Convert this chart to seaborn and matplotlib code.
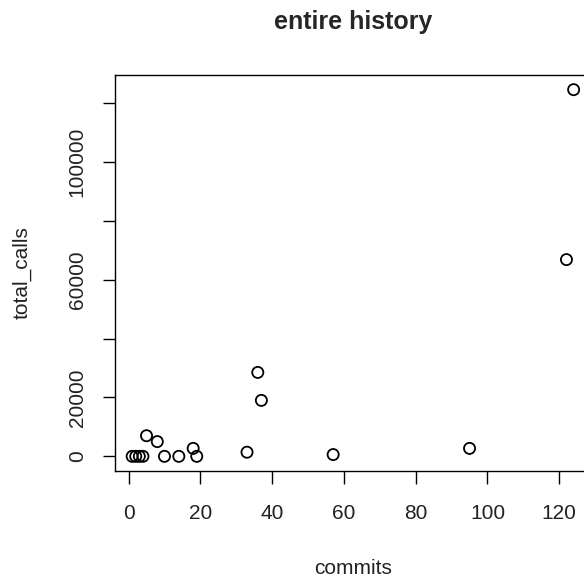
"""Scatter of total calls vs commits over the entire history."""

import numpy as np
import pandas as pd
import matplotlib
matplotlib.use("Agg")
import matplotlib.pyplot as plt
import seaborn as sns

commits = [1, 2, 3, 4, 5, 8, 10, 14, 18, 19, 33, 36, 37, 57, 95, 122, 124]
total_calls = [0, 0, 0, 0, 7000, 5000, 0, 0, 2700, 0, 1400, 28500, 19000, 600, 2700, 66800, 124500]
x_ticks = [0, 20, 40, 60, 80, 100, 120]
y_ticks = [0, 20000, 40000, 60000, 80000, 100000, 120000]
y_tick_labels = ["0", "20000", "", "60000", "", "100000", ""]


def r_limits(values, frac=0.04):
    lo, hi = min(values), max(values)
    pad = (hi - lo) * frac
    return lo - pad, hi + pad


def main():
    sns.set_style("ticks")
    plt.rcParams["font.family"] = ["Liberation Sans", "DejaVu Sans"]
    df = pd.DataFrame({"commits": commits, "total_calls": total_calls})

    fig = plt.figure(figsize=(5.84, 5.81), dpi=100)
    # plot region runs off the right edge, as in the original export
    ax = fig.add_axes([114.5 / 584, 1 - 471 / 581, 476.8 / 584, 396 / 581])
    sns.scatterplot(
        data=df, x="commits", y="total_calls", ax=ax,
        marker="o", s=64, facecolor="none", edgecolor="black", linewidth=1.3,
    )
    ax.set_xlim(*r_limits(commits))
    ax.set_ylim(*r_limits(total_calls))

    ax.set_xticks(x_ticks)
    ax.set_xticklabels([str(t) for t in x_ticks])
    ax.set_yticks(y_ticks)
    ax.set_yticklabels(y_tick_labels)
    ax.tick_params(axis="both", direction="out", length=9, width=1.0, color="black",
                   labelsize=15, labelcolor="#222222")
    ax.tick_params(axis="x", pad=15)
    ax.tick_params(axis="y", pad=11, labelrotation=90)
    for lab in ax.get_yticklabels():
        lab.set_va("center")

    for side in ["left", "right", "top", "bottom"]:
        ax.spines[side].set_visible(True)
        ax.spines[side].set_color("black")
        ax.spines[side].set_linewidth(1.0)

    ax.set_xlabel("commits", fontsize=15, color="#222222")
    ax.set_ylabel("total_calls", fontsize=15, color="#222222")
    ax.xaxis.label.set_va("center")
    ax.xaxis.set_label_coords(0.5, (471 - 568) / 396)
    ax.yaxis.label.set_va("center")
    ax.yaxis.set_label_coords((22 - 114.5) / 476.8, 0.5)

    fig.text((114.5 + 476.8 / 2) / 584, 1 - 22 / 581, "entire history",
             ha="center", va="center", fontsize=18, fontweight="bold")

    fig.savefig("out.png", dpi=100)
    plt.close(fig)


if __name__ == "__main__":
    main()
